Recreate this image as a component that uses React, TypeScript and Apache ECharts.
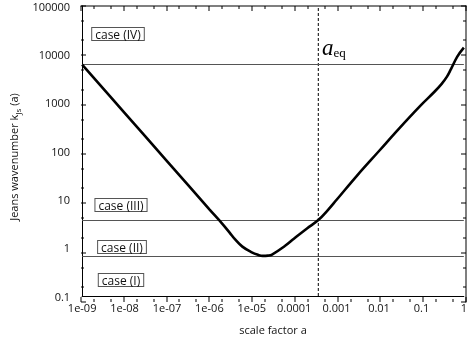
import React, { useEffect, useRef } from "react";
import * as echarts from "echarts";

const scaleFactor = [1e-9, 1e-8, 1e-7, 1e-6, 2e-6, 3e-6, 4e-6, 6e-6, 1e-5, 1.4e-5, 1.8e-5, 2.4e-5, 3e-5, 6e-5, 1e-4, 2e-4, 3.7e-4, 6e-4, 1e-3, 3e-3, 1e-2, 3e-2, 0.1, 0.2, 0.3, 0.4, 0.5, 0.7, 1];
const jeansK = [6150, 615, 62, 6.2, 3.15, 2.05, 1.5, 1.05, 0.8, 0.71, 0.675, 0.685, 0.72, 1.08, 1.55, 2.5, 3.73, 5.8, 9.8, 30.7, 100, 294, 910, 1660, 2450, 3450, 5000, 9000, 13800];
const caseLevels = [6150, 3.73, 0.67];
const aEq = 3.7e-4;
const aRange = [1e-9, 1];
const kRange = [0.1, 100000];
const xTickLabels = ["1e-09", "1e-08", "1e-07", "1e-06", "1e-05", "0.0001", "0.001", "0.01", "0.1", "1"];
const yTickLabels = ["0.1", "1", "10", "100", "1000", "10000", "100000"];
const xDecades = [-9, -8, -7, -6, -5, -4, -3, -2, -1, 0];
const yDecades = [-1, 0, 1, 2, 3, 4, 5];
const minorFactors = [2, 5];
const caseNames = ["case (IV)", "case (III)", "case (II)", "case (I)"];

const FONT = "Open Sans";
const GRID = { left: 81, right: 4, top: 6, bottom: 38 };
const W = 470, H = 340;

export default function App() {
  const ref = useRef<HTMLDivElement>(null);
  useEffect(() => {
    if (!ref.current) return;
    const chart = echarts.init(ref.current, null, { renderer: "svg" });
    const xFmt = (v: number) => {
      const e = Math.round(Math.log10(v));
      return xTickLabels[e + 9] ?? "";
    };
    const yFmt = (v: number) => {
      const e = Math.round(Math.log10(v));
      return yTickLabels[e + 1] ?? "";
    };
    const labelStyle = { fontFamily: FONT, fontSize: 11, color: "#111" };

    const buildTicks = (decades: number[]) => {
      const out: number[][] = [];
      decades.forEach((e, i) => {
        out.push([Math.pow(10, e), 5]);
        if (i < decades.length - 1) minorFactors.forEach((f) => out.push([f * Math.pow(10, e), 3]));
      });
      return out;
    };
    const xTicks = buildTicks(xDecades);
    const yTicks = buildTicks(yDecades);

    // pixel mapping through the same log scale as the grid's axes
    const left = GRID.left, right = W - GRID.right, top = GRID.top, bottom = H - GRID.bottom;
    const lx0 = Math.log10(aRange[0]), lx1 = Math.log10(aRange[1]);
    const ly0 = Math.log10(kRange[0]), ly1 = Math.log10(kRange[1]);
    const toPx = (v: number) => left + ((Math.log10(v) - lx0) / (lx1 - lx0)) * (right - left);
    const toPy = (v: number) => bottom - ((Math.log10(v) - ly0) / (ly1 - ly0)) * (bottom - top);

    const rect = (x: number, y: number, w: number, h: number) => ({
      type: "rect",
      z: 100,
      silent: true,
      shape: { x, y, width: w, height: h },
      style: { fill: "#000" },
    });
    const frame: any[] = [
      rect(left - 0.5, top - 0.5, right - left + 1, 1),
      rect(right - 0.5, top - 0.5, 1, bottom - top + 1),
    ];
    xTicks.forEach(([v, len]) => {
      const px = Math.round(toPx(v)) - 0.5;
      frame.push(rect(px, bottom - len, 1, len));
      frame.push(rect(px, top, 1, len));
    });
    yTicks.forEach(([v, len]) => {
      const py = Math.round(toPy(v)) - 0.5;
      frame.push(rect(left, py, len, 1));
      frame.push(rect(right - len, py, len, 1));
    });

    const caseY = [34, 205, 247, 280];
    const caseX = [118, 121, 122, 121];

    chart.setOption({
      animation: false,
      grid: GRID,
      xAxis: {
        type: "log", logBase: 10, min: aRange[0], max: aRange[1], splitNumber: 9,
        position: "bottom",
        axisLine: { show: true, onZero: false, lineStyle: { color: "#000" } },
        axisTick: { show: false },
        splitLine: { show: false },
        axisLabel: { ...labelStyle, margin: 6, formatter: xFmt, showMinLabel: true, showMaxLabel: true },
        name: "scale factor a", nameLocation: "middle", nameGap: 28,
        nameTextStyle: { fontFamily: FONT, fontSize: 11, color: "#111" },
      },
      yAxis: {
        type: "log", logBase: 10, min: kRange[0], max: kRange[1], splitNumber: 6,
        position: "left",
        axisLine: { show: true, onZero: false, lineStyle: { color: "#000" } },
        axisTick: { show: false },
        splitLine: { show: false },
        axisLabel: { ...labelStyle, margin: 12, formatter: yFmt },
        name: "{n|Jeans wavenumber k}{s|Js}{n| (a)}", nameLocation: "middle", nameGap: 58,
        nameTextStyle: {
          fontFamily: FONT, fontSize: 11, color: "#111",
          padding: [0, 12, 0, 0],
          rich: {
            n: { fontFamily: FONT, fontSize: 11, color: "#111", lineHeight: 16, verticalAlign: "middle" },
            s: { fontFamily: FONT, fontSize: 8, color: "#111", lineHeight: 16, verticalAlign: "bottom" },
          },
        },
      },
      series: [
        {
          type: "line",
          data: scaleFactor.map((a, i) => [a, jeansK[i]]),
          showSymbol: false,
          smooth: 0.4,
          lineStyle: { color: "#000", width: 2.6 },
          z: 5,
          markLine: {
            silent: true,
            symbol: "none",
            label: { show: false },
            data: caseLevels.map((v) => ({ yAxis: v, lineStyle: { color: "#555", width: 1, type: "solid" } })),
          },
        },
        {
          type: "line",
          data: kRange.map((k) => [aEq, k]),
          showSymbol: false,
          lineStyle: { color: "#000", width: 1, type: [3, 2] },
          z: 4,
        },
      ],
      graphic: {
        elements: [
          ...frame,
          ...caseNames.map((name, i) => ({
            type: "text",
            x: caseX[i],
            y: caseY[i],
            z: 10,
            style: {
              text: name,
              fontFamily: FONT,
              fontSize: 12,
              fill: "#111",
              align: "center",
              verticalAlign: "middle",
              backgroundColor: "#fff",
              borderColor: "#555",
              borderWidth: 1,
              padding: [0, 3, 0, 3],
            },
          })),
          {
            type: "text",
            x: 322,
            y: 46,
            z: 10,
            style: {
              text: "{a|a}{e|eq}",
              verticalAlign: "middle",
              rich: {
                a: { fontFamily: "Liberation Serif", fontStyle: "italic", fontSize: 23, fill: "#000", lineHeight: 26, verticalAlign: "bottom" },
                e: { fontFamily: "Liberation Serif", fontSize: 13, fill: "#000", lineHeight: 26, verticalAlign: "bottom" },
              },
            },
          },
        ],
      },
    });

    return () => chart.dispose();
  }, []);
  return <div ref={ref} style={{ position: "fixed", left: 0, top: 0, width: W, height: H }} />;
}
